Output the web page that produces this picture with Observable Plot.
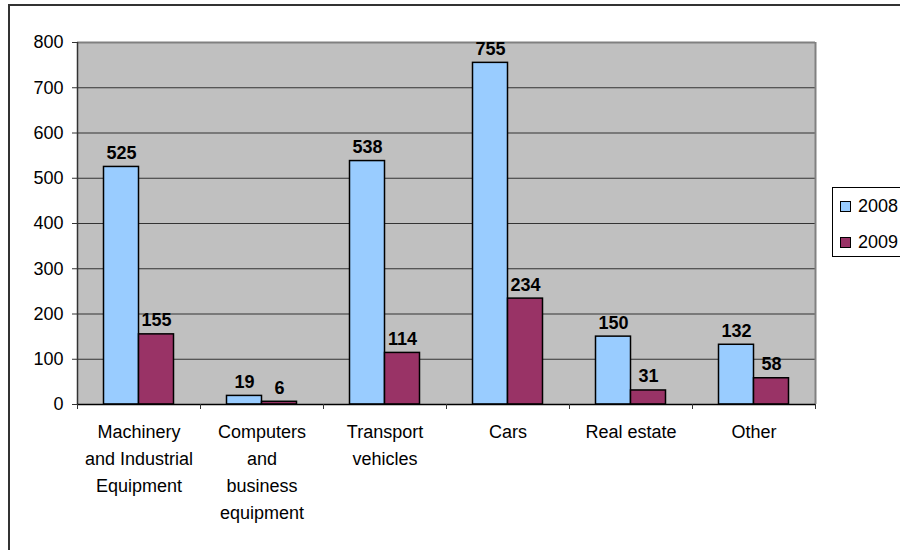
<!DOCTYPE html>
<html>
<head>
<meta charset="utf-8">
<script src="https://cdn.jsdelivr.net/npm/d3@7"></script>
<script src="https://cdn.jsdelivr.net/npm/@observablehq/plot@0.6"></script>
<style>
  html, body { margin: 0; padding: 0; background: #fff; overflow: hidden; width: 900px; height: 550px; }
  #wrap { position: relative; width: 900px; height: 550px; font-family: "Liberation Sans", Arial, sans-serif; }
  #border { position: absolute; left: 8px; top: 4px; width: 1200px; height: 800px; border: 2px solid #333; box-sizing: border-box; }
  #chart { position: absolute; left: 0; top: 0; }
  #legend { position: absolute; left: 832px; top: 187px; width: 120px; height: 70px; border: 1px solid #000; background: #fff; box-sizing: border-box; font-size: 18px; }
  .item { position: absolute; left: 7px; display: flex; align-items: center; line-height: 20px; }
  .sw { width: 9px; height: 9px; border: 1px solid #000; margin-right: 7px; }
</style>
</head>
<body>
<div id="wrap">
  <div id="border"></div>
  <div id="chart"></div>
  <div id="legend"></div>
</div>
<script>
const categories = [
  "Machinery\nand Industrial\nEquipment",
  "Computers\nand\nbusiness\nequipment",
  "Transport\nvehicles",
  "Cars",
  "Real estate",
  "Other"
];
const years = ["2008", "2009"];
const values2008 = [525, 19, 538, 755, 150, 132];
const values2009 = [155, 6, 114, 234, 31, 58];
const yTicks = [0, 100, 200, 300, 400, 500, 600, 700, 800];
const colors = ["#99CCFF", "#993366"];

const barW = 35 / 123;
const groupPad = (1 - 2 * barW) / 2;
const series = [values2008, values2009];
const rows = [];
categories.forEach((c, i) => {
  years.forEach((y, j) => {
    const x1 = i + groupPad + j * barW;
    rows.push({cat: c, year: y, value: series[j][i], x1, x2: x1 + barW, xc: x1 + barW / 2});
  });
});

const chart = Plot.plot({
  width: 900,
  height: 550,
  marginLeft: 77,
  marginRight: 85,
  marginTop: 42,
  marginBottom: 146,
  style: {fontFamily: "'Liberation Sans', Arial, sans-serif", fontSize: "18px", background: "transparent", color: "#000"},
  x: {domain: [0, categories.length], axis: null},
  y: {domain: [0, 800], axis: null},
  color: {domain: years, range: colors},
  marks: [
    Plot.frame({fill: "#C0C0C0", stroke: null}),
    Plot.ruleY(yTicks.filter(d => d > 0 && d < 800), {stroke: "#333", strokeWidth: 1}),
    Plot.ruleY([800], {stroke: "#808080", strokeWidth: 2}),
    Plot.ruleX([categories.length], {stroke: "#808080", strokeWidth: 2}),
    Plot.rectY(rows, {x1: "x1", x2: "x2", y: "value", fill: "year", stroke: "#000", strokeWidth: 1.5}),
    Plot.text(rows, {x: "xc", y: "value", text: d => String(d.value), lineAnchor: "bottom", dy: -8, fontWeight: "bold", fontSize: 18, fill: "#000"}),
    Plot.ruleX([0], {stroke: "#333", strokeWidth: 1.5}),
    Plot.ruleY([0], {stroke: "#000", strokeWidth: 1.5}),
    Plot.axisY({ticks: yTicks, tickSize: 5, tickPadding: 9, tickFormat: d => String(d), fontSize: 18, label: null, stroke: "#333"}),
    Plot.axisX({ticks: d3.range(0, categories.length + 1), tickSize: 5, tickFormat: () => "", label: null, stroke: "#333"}),
    Plot.text(categories, {x: (d, i) => i + 0.5, frameAnchor: "bottom", lineAnchor: "top", dy: 14, lineHeight: 1.5, fontSize: 18, fill: "#000", text: d => d})
  ]
});
document.getElementById("chart").append(chart);

const legend = document.getElementById("legend");
years.forEach((y, j) => {
  const item = document.createElement("div");
  item.className = "item";
  item.style.top = (j === 0 ? 8 : 44) + "px";
  const sw = document.createElement("div");
  sw.className = "sw";
  sw.style.background = colors[j];
  const t = document.createElement("span");
  t.textContent = y;
  item.append(sw, t);
  legend.append(item);
});
</script>
</body>
</html>
